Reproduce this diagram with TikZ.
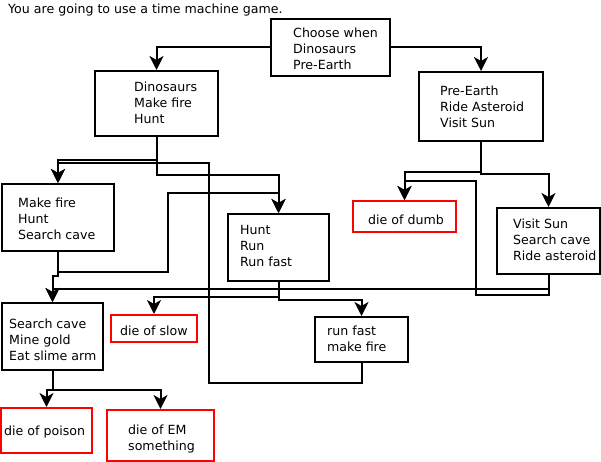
\documentclass[tikz,border=0pt]{standalone}
\usepackage{fontspec}
\setmainfont{DejaVu Sans}
\usetikzlibrary{arrows.meta}
\begin{document}
\begin{tikzpicture}[x=1pt,y=-1pt,
  every node/.style={inner sep=0pt},
  box/.style={draw=black,line width=2pt,rectangle},
  redbox/.style={draw=red,line width=2pt,rectangle},
  txt/.style={anchor=north west,align=left,font=\fontsize{12.6}{16}\selectfont},
  link/.style={line width=2pt,-{Stealth[length=14pt,width=14pt,inset=4pt]}}]
\useasboundingbox (0,0) rectangle (601,462);
\fill[white] (0,0) rectangle (601,462);
% boxes
\node[box,minimum width=119pt,minimum height=57pt] (choose) at (330.5,47.5) {};
\node[box,minimum width=123pt,minimum height=65pt] (dino) at (156.5,103.5) {};
\node[box,minimum width=124pt,minimum height=69pt] (pre) at (481,106.5) {};
\node[box,minimum width=112pt,minimum height=67pt] (make) at (58,217.5) {};
\node[box,minimum width=101pt,minimum height=67pt] (hunt) at (278.5,247.5) {};
\node[redbox,minimum width=103pt,minimum height=31pt] (dumb) at (404.5,216.5) {};
\node[box,minimum width=103pt,minimum height=66pt] (visit) at (548.5,241) {};
\node[box,minimum width=101pt,minimum height=67pt] (search) at (52.5,336.5) {};
\node[redbox,minimum width=86pt,minimum height=27pt] (slow) at (154,328.5) {};
\node[redbox,minimum width=91pt,minimum height=45pt] (poison) at (46.5,430.5) {};
\node[redbox,minimum width=107pt,minimum height=51pt] (em) at (160.5,435.5) {};
\node[box,minimum width=93pt,minimum height=45pt] (rf) at (361.5,339.5) {};
% texts
\node[txt] (title) at (8,3.5) {You are going to use a time machine game.};
\node[txt] (tchoose) at (293,28) {Choose when\\Dinosaurs\\Pre-Earth};
\node[txt] (tdino) at (134,82) {Dinosaurs\\Make fire\\Hunt};
\node[txt] (tpre) at (440,86) {Pre-Earth\\Ride Asteroid\\Visit Sun};
\node[txt] (tmake) at (18,198) {Make fire\\Hunt\\Search cave};
\node[txt] (thunt) at (240,225) {Hunt\\Run\\Run fast};
\node[txt] (tdumb) at (368,215) {die of dumb};
\node[txt] (tvisit) at (513,219) {Visit Sun\\Search cave\\Ride asteroid};
\node[txt] (tsearch) at (9,319) {Search cave\\Mine gold\\Eat slime arm};
\node[txt] (tslow) at (120,326) {die of slow};
\node[txt] (tpoison) at (4,426) {die of poison};
\node[txt] (tem) at (128,425) {die of EM\\something};
\node[txt] (trf) at (327,326) {run fast\\make fire};
% connectors
\draw[link] (choose.west) -| (dino.north);
\draw[link] (choose.east) -| (pre.north);
\draw[link] (dino.south) -- ++(0,23.5) -| (make.north);
\draw[link] (dino.south) -- ++(0,38) -| (hunt.north);
\draw[link] (rf.south) |- (209,383) -- (209,163.5) -| (make.north);
\draw[link] (make.south) |- (168,272) -- (168,193) -| (hunt.north);
\draw[link] (make.south) -- ++(0,24) -| (search.north);
\draw[link] (visit.south) -- ++(0,14) -| (search.north);
\draw[link] (visit.south) |- (476,295) -- (476,181) -| (dumb.north);
\draw[link] (pre.south) -- ++(0,30) -| (dumb.north);
\draw[link] (pre.south) -- ++(0,32) -| (visit.north);
\draw[link] (hunt.south) -- ++(0,15) -| (slow.north);
\draw[link] (hunt.south) -- ++(0,18) -| (rf.north);
\draw[link] (search.south) -- ++(0,19) -| (poison.north);
\draw[link] (search.south) -- ++(0,19) -| (em.north);
\end{tikzpicture}
\end{document}
